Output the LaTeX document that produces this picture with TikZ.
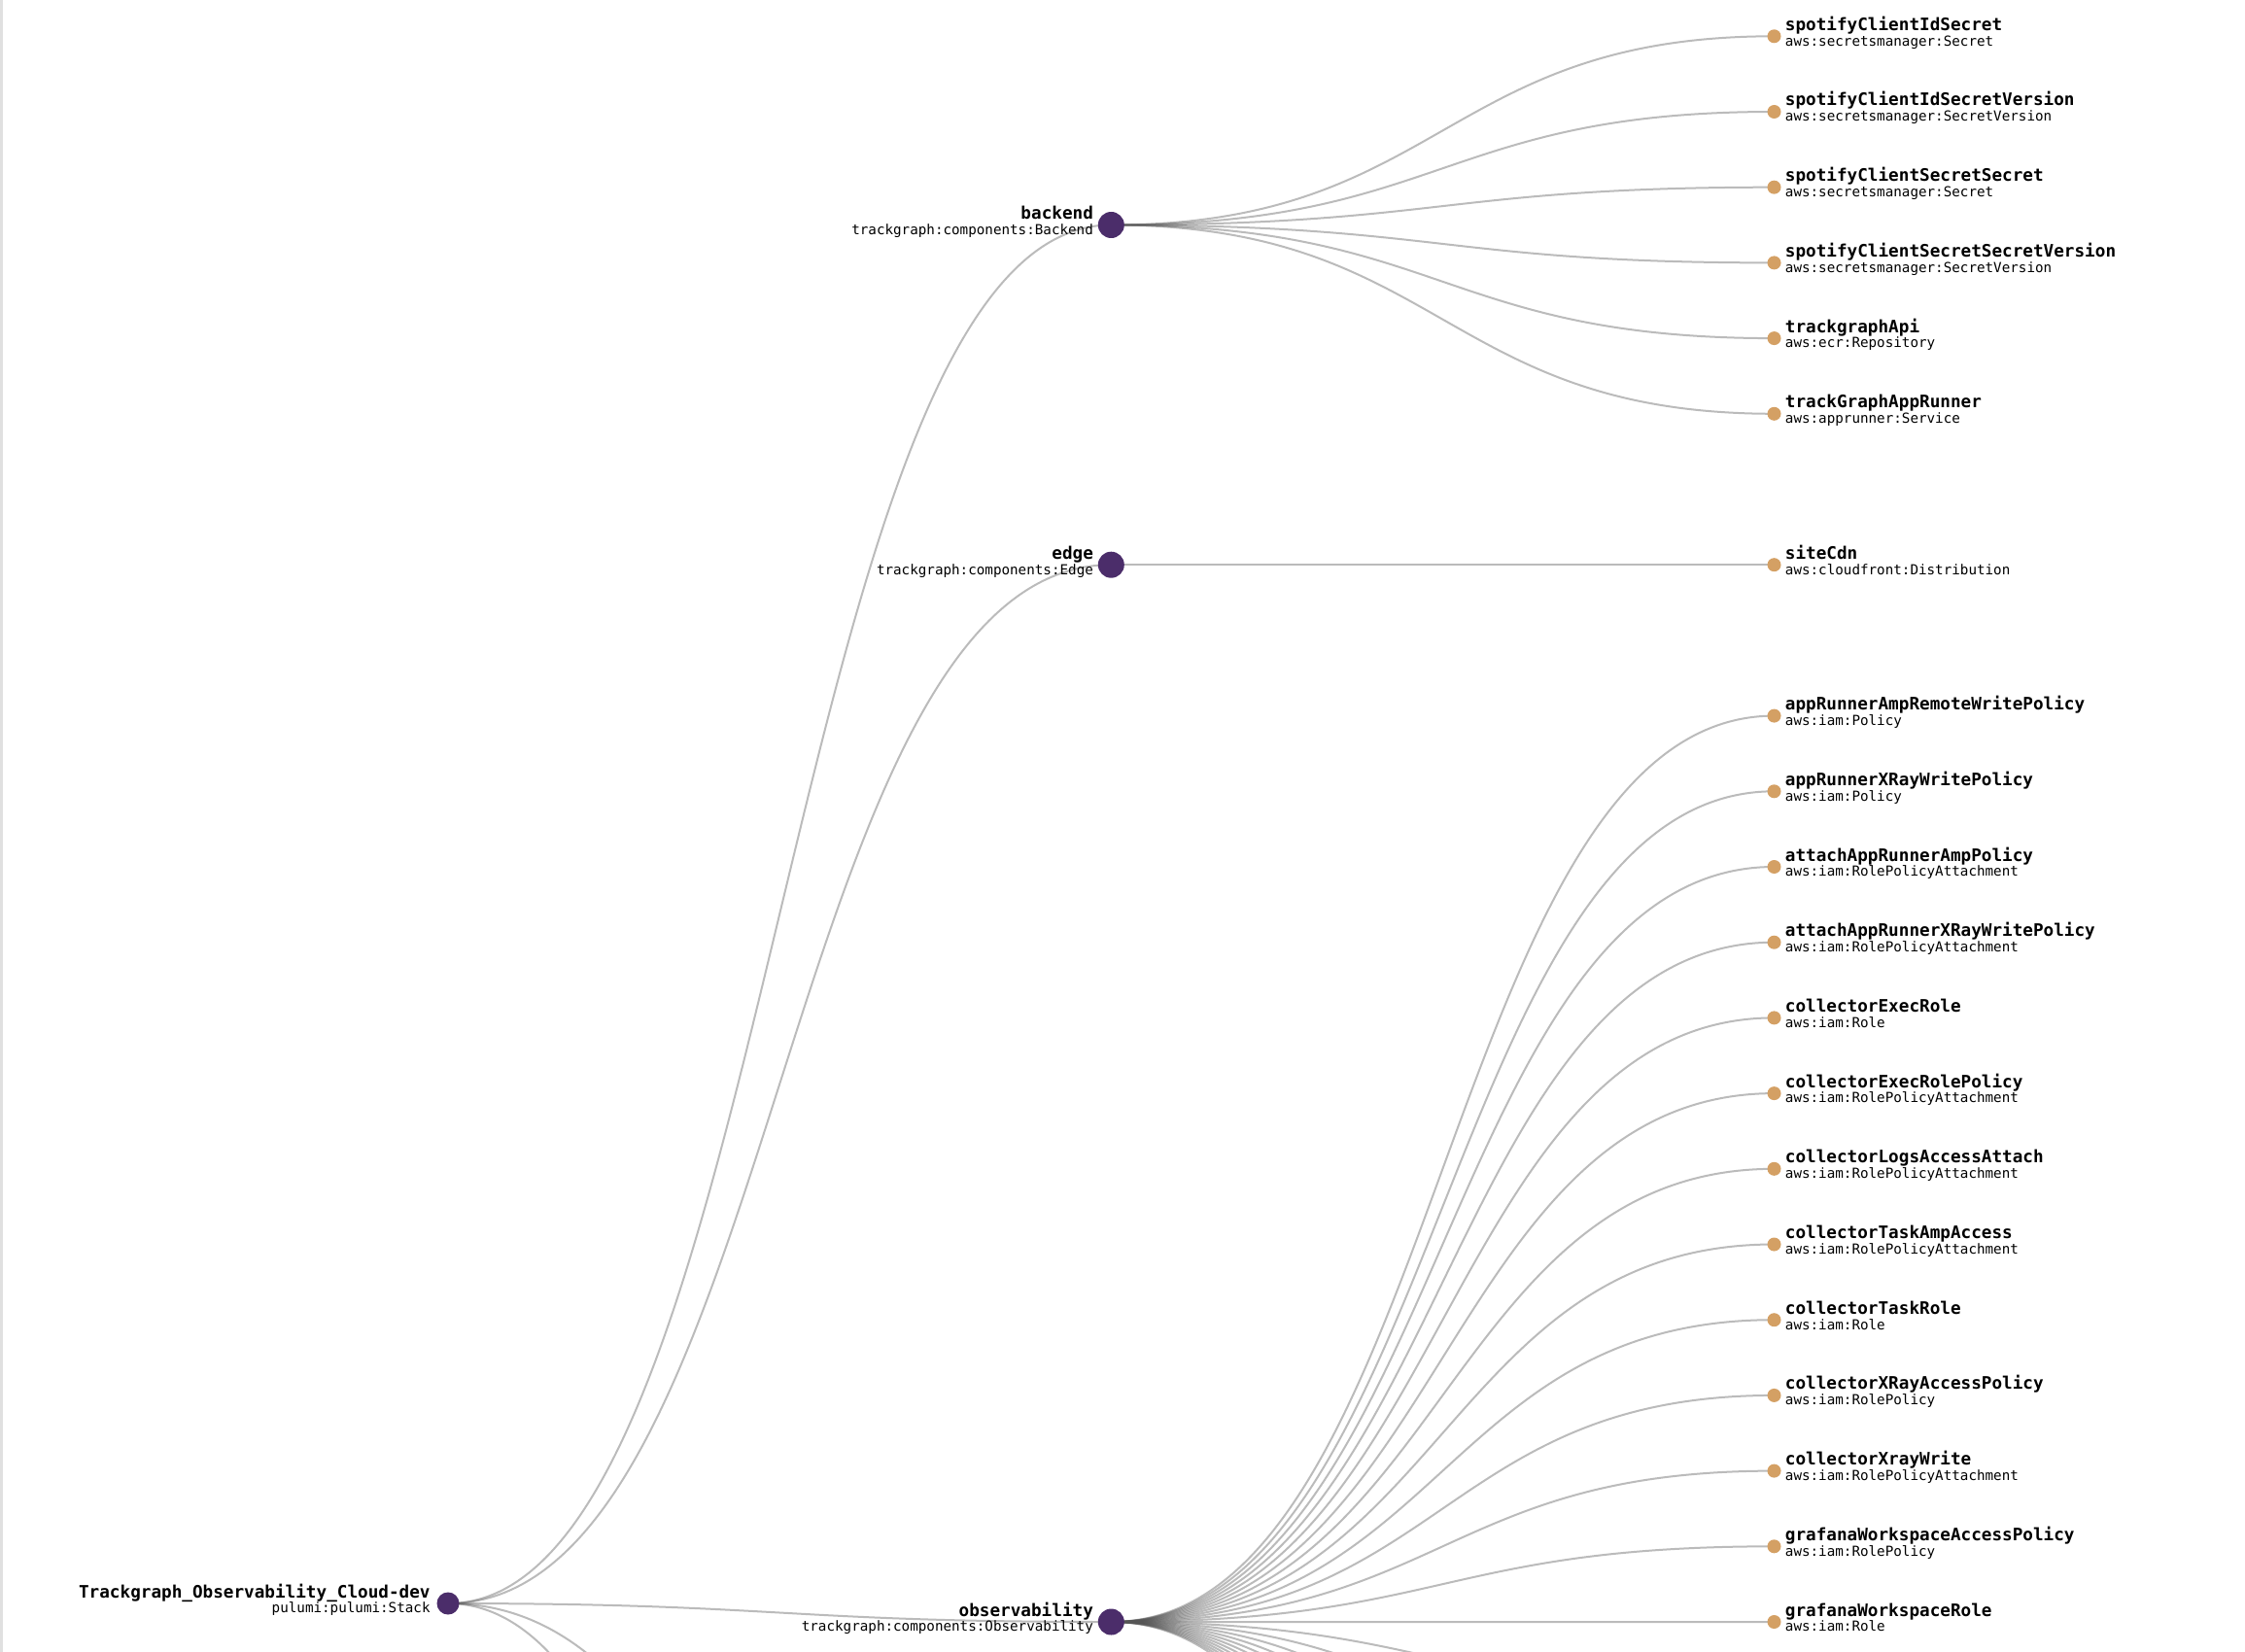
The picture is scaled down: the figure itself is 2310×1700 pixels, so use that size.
\documentclass[tikz,border=0pt]{standalone}
\usepackage{fontspec}
\setmonofont{DejaVu Sans Mono}
\usetikzlibrary{calc,backgrounds}
\definecolor{comp}{HTML}{4B2D6A}
\definecolor{leafc}{HTML}{D4A064}
\definecolor{linkc}{HTML}{555555}
\definecolor{border}{HTML}{E0E0E0}
\tikzset{
  compdot/.style={circle,fill=comp,inner sep=0pt,minimum size=13.5pt},
  rootdot/.style={circle,fill=comp,inner sep=0pt,minimum size=11.5pt},
  leafdot/.style={circle,fill=leafc,inner sep=0pt,minimum size=7pt},
  titletext/.style={inner sep=0pt,font=\ttfamily\bfseries\fontsize{8.83pt}{10pt}\selectfont},
  typetext/.style={inner sep=0pt,font=\ttfamily\fontsize{7.12pt}{8pt}\selectfont},
  linkline/.style={draw=linkc,draw opacity=0.4,line width=1pt},
}
\newcommand\leafnode[4]{%
  \node[leafdot] (#1) at (1825.5,{37.3+#2*77.7}) {};
  \node[titletext,anchor=base west] (#1-t) at ($(#1.center)+(11,-6.0)$) {#3};
  \node[typetext,anchor=base west] (#1-s) at ($(#1.center)+(11,9.8)$) {#4};
}
\newcommand\compnode[5]{%
  \node[#5] (#1) at #2 {};
  \node[titletext,anchor=base east] (#1-t) at ($(#1.center)+(-18,-6.0)$) {#3};
  \node[typetext,anchor=base east] (#1-s) at ($(#1.center)+(-18,9.8)$) {#4};
}
\newcommand\lnk[2]{%
  \path (#1.center) -- (#2.center) coordinate[pos=0.5] (mid);
  \draw[linkline] (#1.center) .. controls (mid |- #1.center) and (mid |- #2.center) .. (#2.center);
}
\begin{document}
\begin{tikzpicture}[x=0.5pt,y=-0.5pt]
\useasboundingbox (0,0) rectangle (2310,1700);

% component level
\compnode{root}{(461,1650)}{Trackgraph\_Observability\_Cloud-dev}{pulumi:pulumi:Stack}{rootdot}
\compnode{backend}{(1143.3,231.5)}{backend}{trackgraph:components:Backend}{compdot}
\compnode{edge}{(1143.3,581.2)}{edge}{trackgraph:components:Edge}{compdot}
\compnode{obs}{(1143.3,1669)}{observability}{trackgraph:components:Observability}{compdot}
\coordinate (compx) at (1143.3,2368.8);
\coordinate (compy) at (1143.3,3068.5);

% leaves
\leafnode{l0}{0}{spotifyClientIdSecret}{aws:secretsmanager:Secret}
\leafnode{l1}{1}{spotifyClientIdSecretVersion}{aws:secretsmanager:SecretVersion}
\leafnode{l2}{2}{spotifyClientSecretSecret}{aws:secretsmanager:Secret}
\leafnode{l3}{3}{spotifyClientSecretSecretVersion}{aws:secretsmanager:SecretVersion}
\leafnode{l4}{4}{trackgraphApi}{aws:ecr:Repository}
\leafnode{l5}{5}{trackGraphAppRunner}{aws:apprunner:Service}
\leafnode{l7}{7}{siteCdn}{aws:cloudfront:Distribution}
\leafnode{l9}{9}{appRunnerAmpRemoteWritePolicy}{aws:iam:Policy}
\leafnode{l10}{10}{appRunnerXRayWritePolicy}{aws:iam:Policy}
\leafnode{l11}{11}{attachAppRunnerAmpPolicy}{aws:iam:RolePolicyAttachment}
\leafnode{l12}{12}{attachAppRunnerXRayWritePolicy}{aws:iam:RolePolicyAttachment}
\leafnode{l13}{13}{collectorExecRole}{aws:iam:Role}
\leafnode{l14}{14}{collectorExecRolePolicy}{aws:iam:RolePolicyAttachment}
\leafnode{l15}{15}{collectorLogsAccessAttach}{aws:iam:RolePolicyAttachment}
\leafnode{l16}{16}{collectorTaskAmpAccess}{aws:iam:RolePolicyAttachment}
\leafnode{l17}{17}{collectorTaskRole}{aws:iam:Role}
\leafnode{l18}{18}{collectorXRayAccessPolicy}{aws:iam:RolePolicy}
\leafnode{l19}{19}{collectorXrayWrite}{aws:iam:RolePolicyAttachment}
\leafnode{l20}{20}{grafanaWorkspaceAccessPolicy}{aws:iam:RolePolicy}
\leafnode{l21}{21}{grafanaWorkspaceRole}{aws:iam:Role}
\foreach \k in {22,...,33}{\coordinate (l\k) at (1825.5,{37.3+\k*77.7});}

\begin{pgfonlayer}{background}
\fill[white] (0,0) rectangle (2310,1700);
\fill[border] (0,0) rectangle (2.5,1700);
\clip (0,0) rectangle (2310,1700);
\lnk{root}{backend}
\lnk{root}{edge}
\lnk{root}{obs}
\lnk{root}{compx}
\lnk{root}{compy}
\foreach \k in {0,...,5}{\lnk{backend}{l\k}}
\lnk{edge}{l7}
\foreach \k in {9,...,33}{\lnk{obs}{l\k}}
\end{pgfonlayer}
\end{tikzpicture}
\end{document}
